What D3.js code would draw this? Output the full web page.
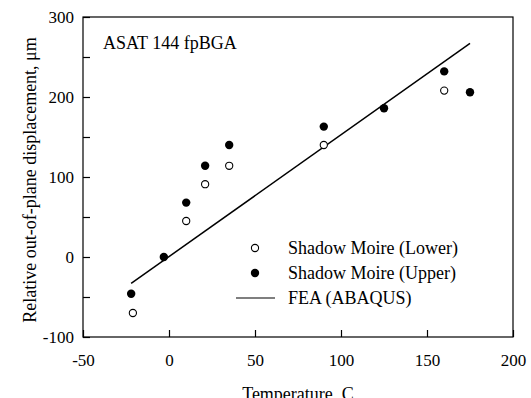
<!DOCTYPE html>
<html>
<head lang="en">
	<meta charset="UTF-8">
	<title>ASAT 144 fpBGA</title>
	<style>
	body { margin: 0; background: #fff; }
	text { font-family: "Liberation Serif", "Times New Roman", serif; font-size: 18px; fill: #000; }
	.tick text { font-size: 17px; }
	.frame { fill: none; stroke: #000; stroke-width: 1.2; }
	</style>
	<script src="https://cdn.jsdelivr.net/npm/d3@7"></script>
</head>
<body>
<script>
	var lowerTemp = [-21, 10, 21, 35, 90, 160];
	var lowerDisp = [-70, 45, 91, 114, 140, 208];
	var upperTemp = [-22, -3, 10, 21, 35, 90, 125, 160, 175];
	var upperDisp = [-46, 0, 68, 114, 140, 163, 186, 232, 206];
	var feaTemp = [-22, 175];
	var feaDisp = [-33, 267];
	var xTicks = [-50, 0, 50, 100, 150, 200];
	var yTicks = [-100, 0, 100, 200, 300];
	var yMinor = [-50, 50, 150, 250];

	window.onload = function(){
		var width = 531, height = 398;
		var margin = {left: 83, top: 17, right: 18, bottom: 61};
		var w = width - margin.left - margin.right;
		var h = height - margin.top - margin.bottom;

		var x = d3.scaleLinear().domain([-50, 200]).range([0, w]);
		var y = d3.scaleLinear().domain([-100, 300]).range([h, 0]);
		var fmt = function(d){ return String(d); }; // plain hyphen minus like the original

		var svg = d3.select("body").append("svg")
			.attr("width", width)
			.attr("height", height);
		var g = svg.append("g")
			.attr("transform", "translate(" + margin.left + "," + margin.top + ")");

		// inward ticks, labels drawn by the axis
		var xAxis = d3.axisBottom(x).tickValues(xTicks).tickFormat(fmt)
			.tickSizeInner(-7).tickSizeOuter(0).tickPadding(17);
		g.append("g").attr("transform", "translate(0," + h + ")").call(xAxis)
			.call(function(s){ s.select(".domain").remove(); s.selectAll("text").attr("font-size", null); });

		var yAxis = d3.axisLeft(y).tickValues(yTicks).tickFormat(fmt)
			.tickSizeInner(-7).tickSizeOuter(0).tickPadding(9);
		g.append("g").call(yAxis)
			.call(function(s){ s.select(".domain").remove(); s.selectAll("text").attr("font-size", null); });

		g.append("g").call(d3.axisLeft(y).tickValues(yMinor).tickSizeInner(-7).tickSizeOuter(0).tickFormat(""))
			.call(function(s){ s.select(".domain").remove(); });

		g.selectAll(".tick line").attr("stroke-width", 1.2);

		g.append("rect").attr("class", "frame")
			.attr("width", w).attr("height", h);

		// FEA line
		var line = d3.line()
			.x(function(d, i){ return x(feaTemp[i]); })
			.y(function(d){ return y(d); });
		g.append("path").datum(feaDisp)
			.attr("d", line)
			.attr("fill", "none")
			.attr("stroke", "#000")
			.attr("stroke-width", 1.5);

		g.selectAll("circle.lower")
			.data(lowerDisp)
			.enter().append("circle")
			.attr("class", "lower")
			.attr("cx", function(d, i){ return x(lowerTemp[i]); })
			.attr("cy", function(d){ return y(d); })
			.attr("r", 3.6)
			.attr("fill", "#fff")
			.attr("stroke", "#000")
			.attr("stroke-width", 1.1);

		g.selectAll("circle.upper")
			.data(upperDisp)
			.enter().append("circle")
			.attr("class", "upper")
			.attr("cx", function(d, i){ return x(upperTemp[i]); })
			.attr("cy", function(d){ return y(d); })
			.attr("r", 4.2)
			.attr("fill", "#000");

		g.append("text").attr("x", 20).attr("y", 32).text("ASAT 144 fpBGA");

		// legend
		var leg = g.append("g").attr("transform", "translate(" + x(50) + "," + (y(0) - 9) + ")");
		leg.append("circle").attr("cx", 0).attr("cy", 0).attr("r", 3.6)
			.attr("fill", "#fff").attr("stroke", "#000").attr("stroke-width", 1.1);
		leg.append("text").attr("x", 33).attr("y", 6).text("Shadow Moire (Lower)");
		leg.append("circle").attr("cx", 0).attr("cy", 25).attr("r", 4.2).attr("fill", "#000");
		leg.append("text").attr("x", 33).attr("y", 31).text("Shadow Moire (Upper)");
		leg.append("line").attr("x1", -19).attr("x2", 20).attr("y1", 50).attr("y2", 50)
			.attr("stroke", "#000").attr("stroke-width", 1.2);
		leg.append("text").attr("x", 33).attr("y", 56).text("FEA (ABAQUS)");

		svg.append("text")
			.attr("x", margin.left + w / 2).attr("y", 400)
			.attr("text-anchor", "middle")
			.text("Temperature, C");

		svg.append("text")
			.attr("transform", "translate(36," + (margin.top + h / 2 + 3) + ")rotate(-90)")
			.attr("text-anchor", "middle")
			.text("Relative out-of-plane displacement, \u03bcm");
	};
</script>
</body>
</html>
